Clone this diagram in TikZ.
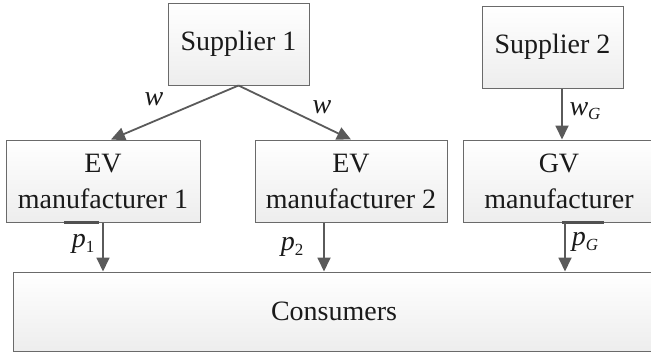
\documentclass[tikz,border=0pt]{standalone}
\usepackage{fontspec}
\setmainfont{Liberation Serif}
\usetikzlibrary{arrows.meta,calc}
\definecolor{edge}{HTML}{6A6A6A}
\definecolor{arr}{HTML}{5A5A5A}
\definecolor{txt}{HTML}{1A1A1A}
\newcommand{\lbl}[2]{\textit{#1}\raisebox{-0.35ex}{\fontsize{17}{17}\selectfont #2}}
\begin{document}
\begin{tikzpicture}[x=1pt,y=-1pt,
  box/.style={draw=edge,line width=1pt,top color=white,bottom color=gray!14,
    text=txt,align=center,inner sep=0pt,font=\fontsize{28}{36}\selectfont},
  flow/.style={draw=arr,line width=1.8pt,-{Triangle[length=14pt,width=13pt]}},
  bar/.style={draw=arr!90!black,line width=2.2pt},
  lab/.style={text=txt,font=\fontsize{28}{30}\selectfont,inner sep=0pt}]
\useasboundingbox (0,0) rectangle (651,354);
\node[box,minimum width=141pt,minimum height=82pt] (s1) at (238.5,44) {Supplier 1};
\node[box,minimum width=141pt,minimum height=82pt] (s2) at (552.5,47) {Supplier 2};
\node[box,minimum width=194pt,minimum height=82pt] (ev1) at (103,181) {EV\\manufacturer 1};
\node[box,minimum width=192pt,minimum height=82pt] (ev2) at (351,181) {EV\\manufacturer 2};
\node[box,minimum width=192pt,minimum height=82pt] (gv) at (559,181) {GV\\manufacturer};
\node[box,minimum width=650pt,minimum height=79pt] (con) at (338,311.5) {};
\node[text=txt,font=\fontsize{28}{36}\selectfont] (contxt) at (334,311.5) {Consumers};
\draw[bar] ([xshift=-39pt]ev1.south) -- ([xshift=-4pt]ev1.south);
\draw[bar] ([xshift=3pt]gv.south) -- ([xshift=45pt]gv.south);
\draw[flow] (s1.south) -- ([xshift=8pt]ev1.north);
\draw[flow] (s1.south) -- (ev2.north);
\draw[flow] ([xshift=9.5pt]s2.south) -- ([xshift=9.5pt]s2.south |- gv.north);
\draw[flow] (ev1.south) -- (ev1.south |- con.north);
\draw[flow] ([xshift=-27pt]ev2.south) -- ([xshift=-27pt]ev2.south |- con.north);
\draw[flow] ([xshift=6pt]gv.south) -- ([xshift=6pt]gv.south |- con.north);
\node[lab] (lw1) at (154,99) {\textit{w}};
\node[lab] (lw2) at (322,107) {\textit{w}};
\node[lab] (lwg) at (585,111) {\lbl{w}{\textit{G}}};
\node[lab] (lp1) at (83,244) {\lbl{p}{1}};
\node[lab] (lp2) at (292,247) {\lbl{p}{2}};
\node[lab] (lpg) at (585,242) {\lbl{p}{\textit{G}}};
\end{tikzpicture}
\end{document}
